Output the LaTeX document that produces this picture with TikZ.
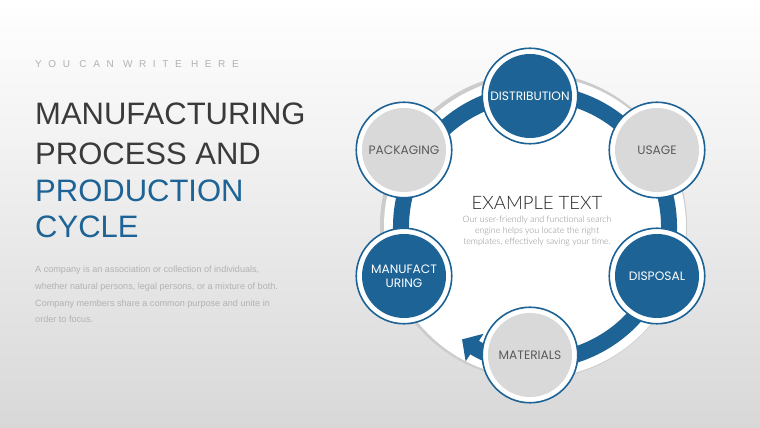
\documentclass[tikz,border=0pt]{standalone}
\usepackage{fontspec}
\setmainfont{Liberation Sans}
\newfontfamily\stagefont{Poppins}
\newfontfamily\lightfont{Lato Light}
\newfontfamily\spacedfont{Liberation Sans}[LetterSpace=66]
\usetikzlibrary{arrows.meta}
\definecolor{ringblue}{HTML}{1D6395}
\definecolor{stagegrey}{HTML}{D9D9D9}
\definecolor{labelgrey}{HTML}{5A5A5A}
\definecolor{titlegrey}{HTML}{3A3A3A}
\definecolor{bodygrey}{HTML}{B2B2B2}
\definecolor{backgrey}{HTML}{D8D8D8}
\tikzset{
  stage/.style={circle, minimum size=95.5pt, inner sep=0pt, draw=ringblue, line width=1.6pt,
    fill=white, align=center, font=\stagefont\fontsize{12.2}{14}\selectfont},
  bluestage/.style={stage, text=white,
    path picture={\fill[ringblue] (path picture bounding box.center) circle (42pt);}},
  greystage/.style={stage, text=labelgrey,
    path picture={\fill[stagegrey] (path picture bounding box.center) circle (42pt);}},
  headline/.style={anchor=base west, inner sep=0pt, font=\fontsize{31}{36}\selectfont}
}
\begin{document}
\begin{tikzpicture}[x=1pt,y=1pt]
  \useasboundingbox (0,0) rectangle (760,428);
  \shade[top color=white, bottom color=backgrey] (0,0) rectangle (760,428);

  % backdrop disc and cycle ring
  \coordinate (hub) at (535,201);
  \fill[gray!40] ([shift={(-1.5,1)}]hub) circle (153.5);
  \fill[white] (hub) circle (151);
  \draw[ringblue, line width=16pt, -{Triangle[width=32pt,length=15pt]}]
    ([shift={(210:134)}]hub) arc[start angle=210, end angle=-123, radius=134];

  \node[bluestage] (dist) at (530,332) {DISTRIBUTION};
  \node[greystage] (usage) at (657,278) {USAGE};
  \node[bluestage] (disp) at (657,152) {DISPOSAL};
  \node[greystage] (mat) at (530,73) {MATERIALS};
  \node[bluestage] (manu) at (404,152) {MANUFACT\\URING};
  \node[greystage] (pack) at (404,278) {PACKAGING};

  \node[anchor=base, text=black!85, font=\lightfont\fontsize{18.5}{20}\selectfont] (extitle) at (537,218) {EXAMPLE TEXT};
  \node[anchor=north, align=center, inner sep=0pt, text=gray!90, font=\lightfont\fontsize{8.8}{11}\selectfont] (exbody) at (537,212.5)
    {Our user-friendly and functional search\\engine helps you locate the right\\templates, effectively saving your time.};

  % left column
  \node[anchor=base west, inner sep=0pt, text=bodygrey, font=\spacedfont\fontsize{10}{12}\selectfont] (tagline) at (35,360) {YOU CAN WRITE HERE};
  \node[headline, text=titlegrey] (head1) at (35,303) {MANUFACTURING};
  \node[headline, text=titlegrey] (head2) at (35,263) {PROCESS AND};
  \node[headline, text=ringblue] (head3) at (35,226) {PRODUCTION};
  \node[headline, text=ringblue] (head4) at (35,190) {CYCLE};
  \node[anchor=north west, inner sep=0pt, align=left, text=bodygrey, font=\fontsize{9.1}{16.7}\selectfont] (blurb) at (35,162)
    {A company is an association or collection of individuals,\\
     whether natural persons, legal persons, or a mixture of both.\\
     Company members share a common purpose and unite in\\
     order to focus.};
\end{tikzpicture}
\end{document}
